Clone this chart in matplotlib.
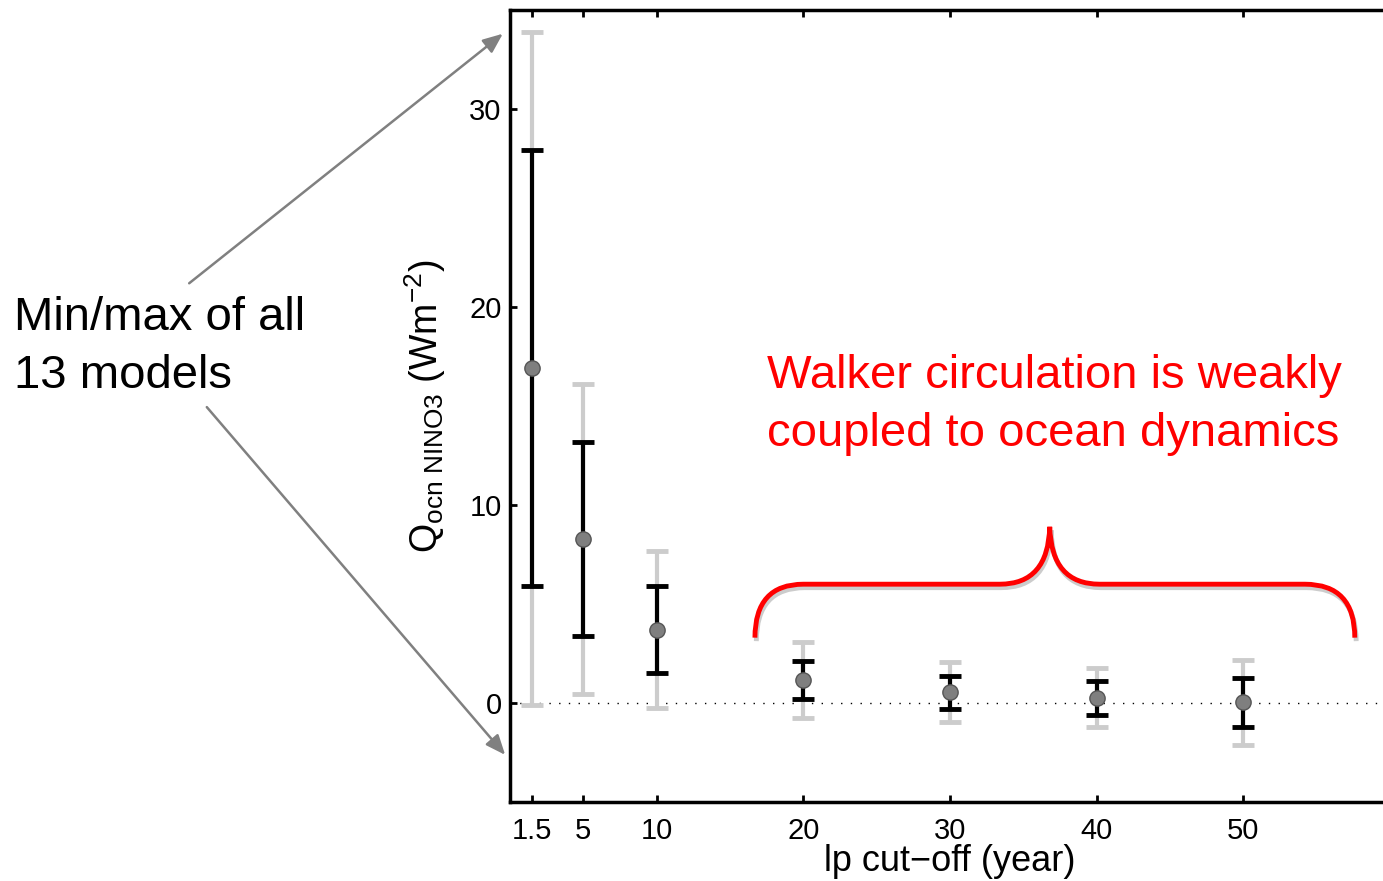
import matplotlib
matplotlib.use("Agg")
import matplotlib.pyplot as plt
import matplotlib.patheffects as pe
from matplotlib.path import Path
from matplotlib.patches import PathPatch

plt.rcParams['font.family'] = ['Liberation Sans', 'DejaVu Sans']
plt.rcParams['mathtext.fontset'] = 'custom'
plt.rcParams['mathtext.rm'] = 'Liberation Sans'
plt.rcParams['mathtext.it'] = 'Liberation Sans'

# data
cutoff = [1.5, 5, 10, 20, 30, 40, 50]
mean_val = [16.9, 8.27, 3.68, 1.16, 0.55, 0.25, 0.03]
std_hi = [27.95, 13.16, 5.9, 2.12, 1.36, 1.1, 1.26]
std_lo = [5.9, 3.38, 1.5, 0.2, -0.32, -0.6, -1.22]
model_max = [33.9, 16.1, 7.67, 3.08, 2.07, 1.76, 2.17]
model_min = [-0.1, 0.45, -0.25, -0.76, -0.96, -1.2, -2.1]

W, H = 1383, 881
fig = plt.figure(figsize=(W / 100, H / 100), dpi=100)
ax = fig.add_axes([510 / W, 1 - 802 / H, 880 / W, 792 / H])

# min/max of all models (gray)
ax.errorbar(cutoff, mean_val,
            yerr=[[m - lo for m, lo in zip(mean_val, model_min)],
                  [hi - m for m, hi in zip(mean_val, model_max)]],
            fmt='none', ecolor='#cccccc', elinewidth=3, capsize=8, capthick=3.5, zorder=2)
# spread (black)
ax.errorbar(cutoff, mean_val,
            yerr=[[m - lo for m, lo in zip(mean_val, std_lo)],
                  [hi - m for m, hi in zip(mean_val, std_hi)]],
            fmt='none', ecolor='black', elinewidth=3, capsize=8, capthick=3.5, zorder=3)
ax.plot(cutoff, mean_val, 'o', color='#7f7f7f', markeredgecolor='#555555',
        markersize=11, markeredgewidth=1, zorder=4)

ax.axhline(0, color='black', linestyle=(0, (1, 6)), linewidth=1, zorder=1)

ax.set_xlim(0, 60)
ax.set_ylim(-5, 35)
ax.set_xticks(cutoff)
ax.set_xticklabels(['1.5', '5', '10', '20', '30', '40', '50'])
ax.set_yticks([0, 10, 20, 30])
ax.tick_params(direction='in', length=5, width=2, labelsize=21,
               top=True, right=True, pad=6)
ax.tick_params(axis='x', pad=11)
for s in ax.spines.values():
    s.set_linewidth(2.5)

ax.set_xlabel('lp cut\u2212off (year)', fontsize=26, labelpad=-1)
ax.set_ylabel(r'Q$_{\mathrm{ocn\ NINO3}}$ (Wm$^{-2}$)', fontsize=27, labelpad=15)

# brace over the long cut-off points
verts = [(16.7, 3.3), (16.7, 6.0), (20.0, 6.0),
         (33.4, 6.0),
         (36.7, 6.0), (36.8, 8.9),
         (36.9, 6.0), (40.2, 6.0),
         (54.2, 6.0),
         (57.6, 6.0), (57.6, 3.3)]
codes = [Path.MOVETO, Path.CURVE3, Path.CURVE3,
         Path.LINETO,
         Path.CURVE3, Path.CURVE3,
         Path.CURVE3, Path.CURVE3,
         Path.LINETO,
         Path.CURVE3, Path.CURVE3]
brace = PathPatch(Path(verts, codes), facecolor='none', edgecolor='red',
                  linewidth=3.5, clip_on=False, zorder=5,
                  path_effects=[pe.SimpleLineShadow(offset=(1, -2.5), shadow_color='#aaaaaa', alpha=0.6),
                                pe.Normal()])
ax.add_patch(brace)

fig.text(767 / W, 1 - 405 / H, 'Walker circulation is weakly\ncoupled to ocean dynamics',
         color='red', fontsize=34, ha='left', va='center', linespacing=1.4)

fig.text(14 / W, 1 - 347 / H, 'Min/max of all\n13 models',
         color='black', fontsize=34, ha='left', va='center', linespacing=1.4)

arrow_style = dict(arrowstyle='-|>,head_length=1.2,head_width=0.5', color='#808080', lw=1.8)
ax.annotate('', xy=(505 / W, 1 - 32 / H), xytext=(187 / W, 1 - 285 / H),
            xycoords='figure fraction', textcoords='figure fraction',
            arrowprops=arrow_style, annotation_clip=False)
ax.annotate('', xy=(507 / W, 1 - 757 / H), xytext=(205 / W, 1 - 405 / H),
            xycoords='figure fraction', textcoords='figure fraction',
            arrowprops=arrow_style, annotation_clip=False)

fig.savefig('out.png', dpi=100)
